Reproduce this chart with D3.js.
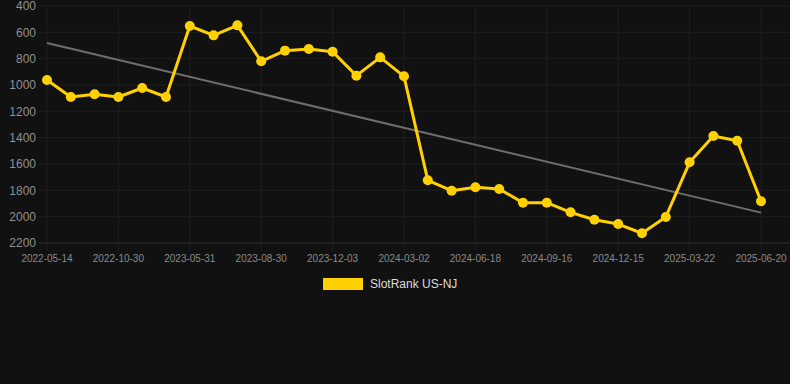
<!DOCTYPE html>
<html>
<head>
<meta charset="utf-8">
<script src="https://cdn.jsdelivr.net/npm/d3@7"></script>
<style>
  html, body { margin: 0; padding: 0; background: #111111; }
  svg { display: block; font-family: "Liberation Sans", Arial, sans-serif; }
</style>
</head>
<body>
<div class="container"></div>
<script>
const w = 790;
const h = 384;

// one label every third point
const tickLabels = ['2022-05-14', '2022-10-30', '2023-05-31', '2023-08-30', '2023-12-03',
  '2024-03-02', '2024-06-18', '2024-09-16', '2024-12-15', '2025-03-22', '2025-06-20'];

const ranks = [962, 1091, 1070, 1091, 1023, 1091, 552, 623, 547, 820,
  739, 727, 747, 929, 790, 934, 1724, 1803, 1777, 1790,
  1894, 1894, 1967, 2023, 2056, 2126, 2002, 1587, 1387, 1423, 1883];

const yTicks = [400, 600, 800, 1000, 1200, 1400, 1600, 1800, 2000, 2200];
const seriesName = 'SlotRank US-NJ';

const margin = { top: 6, right: 29, bottom: 141, left: 47 };
const width = w - margin.left - margin.right;
const height = h - margin.top - margin.bottom;

const svg = d3.select('.container').append('svg')
  .attr('width', w)
  .attr('height', h);

const x = d3.scaleLinear()
  .domain([0, ranks.length - 1])
  .range([margin.left, margin.left + width]);

const y = d3.scaleLinear()
  .domain([400, 2200])
  .range([margin.top, margin.top + height]);

// grid
const grid = svg.append('g');
grid.selectAll('line.h')
  .data(yTicks)
  .enter().append('line')
  .attr('x1', margin.left - 8)
  .attr('x2', w)
  .attr('y1', d => y(d))
  .attr('y2', d => y(d))
  .attr('stroke', d => d === 2200 ? '#2e2e2e' : '#1f1f1f')
  .attr('stroke-width', 1);

grid.selectAll('line.v')
  .data(tickLabels)
  .enter().append('line')
  .attr('x1', (d, i) => x(i * 3))
  .attr('x2', (d, i) => x(i * 3))
  .attr('y1', margin.top)
  .attr('y2', margin.top + height + 8)
  .attr('stroke', '#1f1f1f')
  .attr('stroke-width', 1);

// y labels
svg.append('g').selectAll('text')
  .data(yTicks)
  .enter().append('text')
  .attr('x', margin.left - 11)
  .attr('y', d => y(d))
  .attr('dy', '0.36em')
  .attr('text-anchor', 'end')
  .attr('fill', '#909090')
  .attr('font-size', 12)
  .text(d => d);

// x labels
svg.append('g').selectAll('text')
  .data(tickLabels)
  .enter().append('text')
  .attr('x', (d, i) => x(i * 3))
  .attr('y', margin.top + height + 19)
  .attr('text-anchor', 'middle')
  .attr('fill', '#8a8a8a')
  .attr('font-size', 10)
  .text(d => d);

// trend line (least squares)
const idx = d3.range(ranks.length);
const mx = d3.mean(idx), my = d3.mean(ranks);
const slope = d3.sum(idx, i => (i - mx) * (ranks[i] - my)) / d3.sum(idx, i => (i - mx) * (i - mx));
const icpt = my - slope * mx;
svg.append('line')
  .attr('x1', x(0))
  .attr('y1', y(icpt))
  .attr('x2', x(ranks.length - 1))
  .attr('y2', y(icpt + slope * (ranks.length - 1)))
  .attr('stroke', '#6e6e6e')
  .attr('stroke-width', 2);

// series
const line = d3.line()
  .x((d, i) => x(i))
  .y(d => y(d));

svg.append('path')
  .datum(ranks)
  .attr('d', line)
  .attr('fill', 'none')
  .attr('stroke', '#ffd100')
  .attr('stroke-width', 3)
  .attr('stroke-linejoin', 'round');

svg.append('g').selectAll('circle')
  .data(ranks)
  .enter().append('circle')
  .attr('cx', (d, i) => x(i))
  .attr('cy', d => y(d))
  .attr('r', 5)
  .attr('fill', '#ffd100');

// legend
const legend = svg.append('g')
  .attr('transform', 'translate(323, 278)');
legend.append('rect')
  .attr('width', 40)
  .attr('height', 12)
  .attr('fill', '#ffd100');
legend.append('text')
  .attr('x', 47)
  .attr('y', 6)
  .attr('dy', '0.36em')
  .attr('fill', '#dddddd')
  .attr('font-size', 12)
  .text(seriesName);
</script>
</body>
</html>
